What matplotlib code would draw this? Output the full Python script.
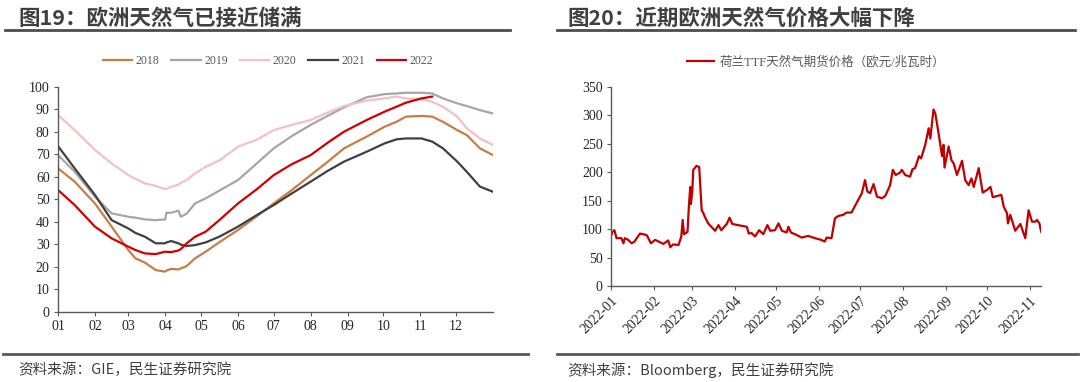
import matplotlib
matplotlib.use("Agg")
import matplotlib.pyplot as plt
import matplotlib.dates as mdates
import pandas as pd
from matplotlib.lines import Line2D

# ---- left chart: EU gas storage fill (%) by day of year ----
days = [0, 14, 31, 45, 59, 65, 73, 82, 90, 91, 95, 101, 103, 108, 115, 124, 136, 151,
        167, 181, 196, 212, 226, 240, 259, 274, 284, 292, 305, 314, 323, 335, 343, 354, 365]
s2018 = [63.7, 57.8, 48.1, 37.8, 27.4, 23.7, 21.8, 18.5, 17.8, 18.3, 19.0, 18.8, 19.2, 20.3,
         23.7, 26.7, 31.1, 36.3, 42.5, 48.1, 54.0, 60.7, 66.5, 72.6, 77.8, 82.2, 84.4, 86.7,
         87.0, 86.7, 84.4, 80.7, 78.5, 72.6, 69.6]
s2019 = [69.6, 62.2, 51.1, 43.7, 42.2, 41.8, 41.0, 40.7, 41.0, 44.0, 44.0, 44.9, 42.2, 43.6,
         48.1, 50.4, 54.0, 58.5, 66.0, 72.6, 78.0, 83.0, 87.0, 90.8, 95.3, 96.7, 97.0, 97.3,
         97.3, 97.0, 94.8, 92.6, 91.4, 89.6, 88.1]
s2020 = [87.4, 80.7, 71.9, 65.9, 60.7, 59.0, 57.0, 55.9, 54.4, 54.6, 55.5, 56.5, 57.2, 58.5,
         61.5, 64.4, 67.4, 73.3, 76.5, 80.7, 83.0, 85.2, 88.5, 91.4, 93.8, 94.8, 95.6, 94.8,
         94.4, 93.3, 91.1, 86.7, 81.5, 77.0, 74.1]
s2021 = [73.6, 63.7, 51.9, 40.7, 37.0, 35.0, 33.3, 30.4, 30.4, 30.8, 31.4, 30.4, 29.8, 29.2,
         29.6, 30.8, 33.5, 37.8, 43.0, 47.4, 52.5, 57.8, 62.5, 66.7, 71.1, 74.8, 76.6, 77.0,
         77.0, 75.6, 72.6, 66.7, 62.2, 55.6, 53.3]
s2022 = [54.1, 47.4, 37.8, 32.6, 28.9, 27.4, 25.9, 25.6, 26.7, 26.6, 26.5, 27.2, 27.8, 30.4,
         33.3, 35.6, 41.0, 48.1, 54.5, 60.7, 65.5, 69.6, 75.0, 80.0, 85.2, 88.9, 91.1, 92.9,
         94.8, 95.6]
month_starts = [0, 31, 59, 90, 120, 151, 181, 212, 243, 273, 304, 334]
month_labels = ["01", "02", "03", "04", "05", "06", "07", "08", "09", "10", "11", "12"]

# ---- right chart: Dutch TTF front-month price (EUR/MWh), 2022 ----
ttf_day = [0, 1, 2.5, 4, 7.5, 9, 10, 12.5, 15, 17, 21, 23.5, 26, 29, 32, 38, 41.5, 43, 45, 49,
           51, 52, 53, 55.5, 56.5, 57.5, 58, 59, 59.7, 62, 64, 65.8, 67, 68, 70.5, 75.5, 78, 80,
           84, 86, 88, 92, 98.5, 100, 102, 104.5, 107.5, 110.5, 113.5, 115.5, 119, 121.5, 124,
           127.5, 128.7, 130.5, 133.5, 138.5, 143, 148, 152.5, 155, 156.5, 160, 162.5, 165,
           168.5, 171, 174.5, 178, 182, 184.3, 186, 188, 190.5, 193, 196.5, 199, 202.5, 204.5,
           206.5, 209.7, 211, 213.5, 217, 218.7, 220.6, 223.5, 225, 228, 230.5, 231.7, 234,
           235.3, 237.7, 240.2, 241.3, 242, 245, 247, 248.7, 251, 254.7, 257, 259.5, 261.5,
           263.2, 266.8, 269.7, 273, 275.3, 277, 280, 283.2, 285, 287.3, 288, 289.7, 293.3,
           297, 300.6, 303, 305.5, 308, 309.1, 310.8, 312.2]
ttf_price = [88, 95, 98, 84, 84, 75, 84, 81, 75, 78, 92, 91, 89, 75, 81, 74, 80, 68, 73, 72,
             87, 116, 91, 95, 139, 174, 144, 168, 204, 211, 209, 133, 128, 122, 110, 97, 107, 98,
             109, 120, 109, 107, 104, 92, 93, 87, 98, 91, 107, 97, 98, 110, 97,
             94, 104, 94, 91, 85, 88, 84, 81, 78, 85, 84, 119, 123,
             125, 129, 129, 145, 163, 186, 166, 163, 179, 157, 154, 158, 177, 204,
             195, 199, 204, 195, 192, 205, 207, 228, 224, 248, 277, 259, 310,
             303, 268, 228, 248, 208, 245, 221, 215, 195, 220, 186, 177, 189,
             174, 207, 164, 169, 174, 156, 158, 160, 139, 128, 110, 125, 97,
             109, 84, 133, 113, 113, 116, 110, 95]

CJK = ["Noto Sans CJK SC", "DejaVu Sans"]
SERIF = ["Liberation Serif", "Noto Sans CJK SC"]
dark = "#404040"

fig = plt.figure(figsize=(10.8, 3.82), dpi=100)

# headers and footers
fig.text(18 / 1080, 1 - 18 / 382, "图19：欧洲天然气已接近储满", family=CJK, fontsize=15.5,
         fontweight="bold", color=dark, va="center", ha="left")
fig.text(567 / 1080, 1 - 18 / 382, "图20：近期欧洲天然气价格大幅下降", family=CJK, fontsize=15.5,
         fontweight="bold", color=dark, va="center", ha="left")
fig.text(18 / 1080, 1 - 370 / 382, "资料来源：GIE，民生证券研究院", family=CJK, fontsize=10.5,
         color=dark, va="center", ha="left")
fig.text(567 / 1080, 1 - 370 / 382, "资料来源：Bloomberg，民生证券研究院", family=CJK,
         fontsize=10.5, color=dark, va="center", ha="left")
for x0, x1 in [(5, 510), (557, 1075)]:
    fig.add_artist(Line2D([x0 / 1080, x1 / 1080], [1 - 30 / 382] * 2, color="#4d4d4d", lw=2))
for x0, x1 in [(3, 528), (557, 1078)]:
    fig.add_artist(Line2D([x0 / 1080, x1 / 1080], [1 - 354 / 382] * 2, color="#595959", lw=2))

# ---- left axes ----
ax1 = fig.add_axes([58 / 1080, 1 - 311.7 / 382, 435 / 1080, 225 / 382])
series = [("2018", s2018, "#C87D46"), ("2019", s2019, "#A6A6A6"), ("2020", s2020, "#F2C2C2"),
          ("2021", s2021, "#404040"), ("2022", s2022, "#D00000")]
for name, vals, col in series:
    ax1.plot(days[:len(vals)], vals, color=col, lw=1.6, label=name)
ax1.set_xlim(0, 365)
ax1.set_ylim(0, 100)
ax1.set_yticks(range(0, 101, 10))
ax1.set_xticks(month_starts)
ax1.set_xticklabels(month_labels)
ax1.legend(loc="center", bbox_to_anchor=(268 / 1080, 1 - 61 / 382), bbox_transform=fig.transFigure,
           ncol=5, frameon=False, prop={"family": SERIF, "size": 8.5}, labelcolor="#595959",
           handlelength=2.5, columnspacing=1.0, handletextpad=0.3)

# ---- right axes ----
ax2 = fig.add_axes([611 / 1080, 1 - 286 / 382, 430 / 1080, 199.3 / 382])
ttf_dates = pd.Timestamp("2022-01-01") + pd.to_timedelta(ttf_day, unit="D")
ax2.plot(ttf_dates, ttf_price, color="#C00000", lw=1.6,
         label="荷兰TTF天然气期货价格（欧元/兆瓦时）")
ax2.set_ylim(0, 350)
ax2.set_xlim(pd.Timestamp("2022-01-01"), pd.Timestamp("2022-01-01") + pd.Timedelta(days=312))
ax2.xaxis.set_major_locator(mdates.MonthLocator())
ax2.xaxis.set_major_formatter(mdates.DateFormatter("%Y-%m"))
for lbl in ax2.get_xticklabels():
    lbl.set_rotation(45)
    lbl.set_ha("right")
    lbl.set_rotation_mode("anchor")
ax2.legend(loc="center", bbox_to_anchor=(816 / 1080, 1 - 62 / 382), bbox_transform=fig.transFigure,
           frameon=False, prop={"family": SERIF, "size": 9}, labelcolor="#595959",
           handlelength=2.2, handletextpad=0.4)

for ax in (ax1, ax2):
    for s in ("top", "right"):
        ax.spines[s].set_visible(False)
    for s in ("left", "bottom"):
        ax.spines[s].set_color("#595959")
        ax.spines[s].set_linewidth(1)
    ax.tick_params(direction="out", length=3, width=0.8, color="#595959", labelsize=10,
                   labelcolor="#262626", pad=3)
    for lbl in ax.get_xticklabels() + ax.get_yticklabels():
        lbl.set_family(SERIF)

plt.savefig("out.png", dpi=100)
